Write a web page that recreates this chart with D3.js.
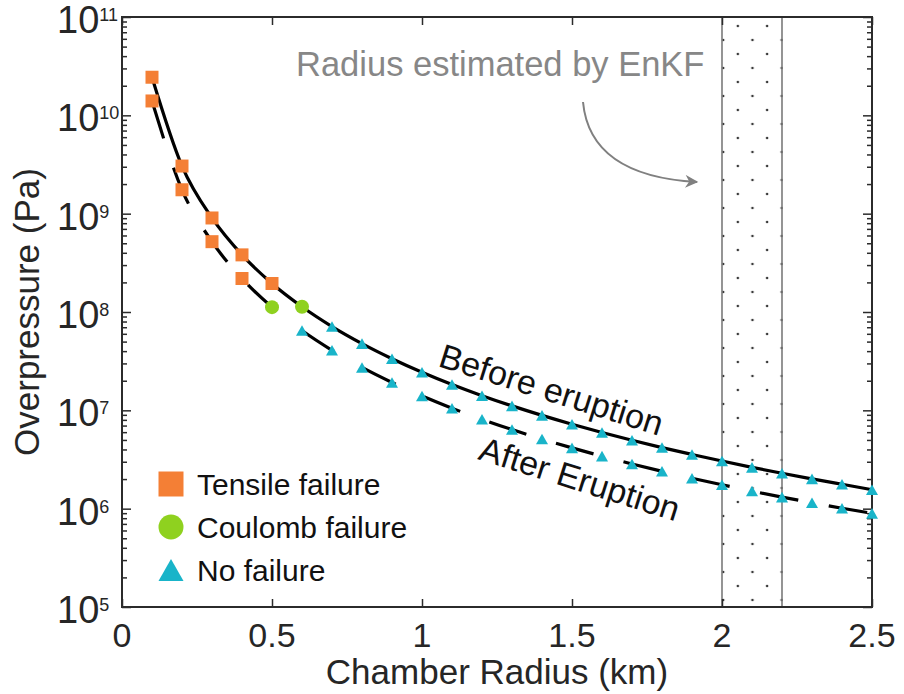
<!DOCTYPE html>
<html>
<head>
<meta charset="utf-8">
<script src="https://cdn.jsdelivr.net/npm/d3@7"></script>
<style>
  html, body { margin: 0; padding: 0; background: #fff; }
  svg { display: block; font-family: "Liberation Sans", Arial, sans-serif; }
</style>
</head>
<body>
<svg id="chart" width="904" height="694"></svg>
<script>
// Chamber radius (km) of each modelled case
const radiusKm = [0.1, 0.2, 0.3, 0.4, 0.5, 0.6, 0.7, 0.8, 0.9, 1.0,
                  1.1, 1.2, 1.3, 1.4, 1.5, 1.6, 1.7, 1.8, 1.9, 2.0,
                  2.1, 2.2, 2.3, 2.4, 2.5];

// Overpressure (Pa) before the eruption
const beforePa = [2.44e10, 3.05e9, 9.04e8, 3.81e8, 1.95e8, 1.13e8, 7.11e7, 4.77e7, 3.35e7, 2.44e7,
                  1.83e7, 1.41e7, 1.11e7, 8.89e6, 7.23e6, 5.96e6, 4.97e6, 4.18e6, 3.56e6, 3.05e6,
                  2.63e6, 2.29e6, 2.01e6, 1.77e6, 1.56e6];

// Overpressure (Pa) after the eruption
const afterPa = [1.40e10, 1.75e9, 5.19e8, 2.19e8, 1.12e8, 6.48e7, 4.08e7, 2.73e7, 1.92e7, 1.40e7,
                 1.05e7, 8.10e6, 6.37e6, 5.10e6, 4.15e6, 3.42e6, 2.85e6, 2.40e6, 2.04e6, 1.75e6,
                 1.51e6, 1.31e6, 1.15e6, 1.01e6, 8.96e5];

// Failure mode predicted at each radius
const beforeMode = ["tensile", "tensile", "tensile", "tensile", "tensile", "coulomb",
                    "none", "none", "none", "none", "none", "none", "none", "none", "none",
                    "none", "none", "none", "none", "none", "none", "none", "none", "none", "none"];
const afterMode = ["tensile", "tensile", "tensile", "tensile", "coulomb",
                   "none", "none", "none", "none", "none", "none", "none", "none", "none", "none",
                   "none", "none", "none", "none", "none", "none", "none", "none", "none", "none"];

// Axis ticks
const xTickValues = [0, 0.5, 1, 1.5, 2, 2.5];
const xTickLabels = ["0", "0.5", "1", "1.5", "2", "2.5"];
const yTickExponents = [5, 6, 7, 8, 9, 10, 11];

// Radius range estimated by the EnKF (km)
const enkfRange = [2.0, 2.2];

// Legend entries
const legendModes = ["tensile", "coulomb", "none"];
const legendLabels = ["Tensile failure", "Coulomb failure", "No failure"];

const modeColor = { tensile: "#f47f35", coulomb: "#8fd11f", none: "#19b4c9" };

const svg = d3.select("#chart");
const L = 122, R = 872, T = 17, B = 607;

const x = d3.scaleLinear().domain([0, 2.5]).range([L, R]);
const y = d3.scaleLog().domain([1e5, 1e11]).range([B, T]);

// ---- EnKF radius band with stipple fill ----
const defs = svg.append("defs");
const pw = (x(enkfRange[1]) - x(enkfRange[0])) / 4.1 * 2;
const pat = defs.append("pattern")
  .attr("id", "stipple")
  .attr("patternUnits", "userSpaceOnUse")
  .attr("x", x(enkfRange[0]) + 1.2).attr("y", 12)
  .attr("width", pw).attr("height", 28);
[[0, 0], [pw, 0], [0, 28], [pw, 28], [pw / 2, 14]].forEach(([cx, cy]) => {
  pat.append("circle").attr("cx", cx).attr("cy", cy).attr("r", 1.3).attr("fill", "#3a3a3a");
});
svg.append("rect")
  .attr("x", x(enkfRange[0]) - 1).attr("y", T)
  .attr("width", x(enkfRange[1]) - x(enkfRange[0]) + 2).attr("height", B - T)
  .attr("fill", "url(#stipple)");
enkfRange.forEach(v => {
  svg.append("line")
    .attr("x1", x(v)).attr("x2", x(v)).attr("y1", T).attr("y2", B)
    .attr("stroke", "#7a7a7a").attr("stroke-width", 1.6);
});

// ---- axes frame and ticks ----
const axisColor = "#2b2b2b";
function styleAxis(g) {
  g.select(".domain").remove();
  g.selectAll(".tick line").attr("stroke", axisColor).attr("stroke-width", 1.5);
}
svg.append("g").attr("transform", `translate(0,${B})`)
  .call(d3.axisBottom(x).tickValues(xTickValues).tickSize(-8).tickFormat(""))
  .call(styleAxis);
svg.append("g").attr("transform", `translate(0,${T})`)
  .call(d3.axisTop(x).tickValues(xTickValues).tickSize(-8).tickFormat(""))
  .call(styleAxis);

const majorY = yTickExponents.map(e => Math.pow(10, e));
const minorY = [];
yTickExponents.slice(0, -1).forEach(e => {
  for (let k = 2; k <= 9; k++) minorY.push(k * Math.pow(10, e));
});
[[d3.axisLeft, L], [d3.axisRight, R]].forEach(([ax, pos]) => {
  svg.append("g").attr("transform", `translate(${pos},0)`)
    .call(ax(y).tickValues(majorY).tickSize(-9).tickFormat(""))
    .call(styleAxis);
  svg.append("g").attr("transform", `translate(${pos},0)`)
    .call(ax(y).tickValues(minorY).tickSize(-5).tickFormat(""))
    .call(styleAxis);
});

svg.append("rect")
  .attr("x", L).attr("y", T).attr("width", R - L).attr("height", B - T)
  .attr("fill", "none").attr("stroke", axisColor).attr("stroke-width", 2);

// x tick labels
svg.append("g").selectAll("text").data(xTickValues).join("text")
  .attr("x", d => x(d)).attr("y", B + 40)
  .attr("text-anchor", "middle")
  .attr("font-size", 34).attr("fill", "#262626")
  .text((d, i) => xTickLabels[i]);

// y tick labels as powers of ten
const yLab = svg.append("g").selectAll("text").data(yTickExponents).join("text")
  .attr("x", 57).attr("y", d => y(Math.pow(10, d)) + 16)
  .attr("fill", "#262626");
yLab.append("tspan").attr("font-size", 38).text("10");
yLab.append("tspan").attr("font-size", 18).attr("dy", -12).text(d => d);

// axis titles
svg.append("text")
  .attr("x", (L + R) / 2).attr("y", 684)
  .attr("text-anchor", "middle").attr("font-size", 35).attr("fill", "#262626")
  .text("Chamber Radius (km)");
svg.append("text")
  .attr("transform", `translate(39,${(T + B) / 2}) rotate(-90)`)
  .attr("text-anchor", "middle").attr("font-size", 35).attr("fill", "#262626")
  .text("Overpressure (Pa)");

// ---- curves ----
const beforeData = radiusKm.map((r, i) => ({ r, p: beforePa[i], mode: beforeMode[i] }));
const afterData = radiusKm.map((r, i) => ({ r, p: afterPa[i], mode: afterMode[i] }));
const line = d3.line().x(d => x(d.r)).y(d => y(d.p)).curve(d3.curveMonotoneX);

svg.append("path").datum(beforeData)
  .attr("d", line).attr("fill", "none")
  .attr("stroke", "#000").attr("stroke-width", 3.2);
svg.append("path").datum(afterData)
  .attr("d", line).attr("fill", "none")
  .attr("stroke", "#000").attr("stroke-width", 3.2)
  .attr("stroke-dasharray", "39,31");

// ---- markers ----
function markerPath(mode, s) {
  if (mode === "tensile") return `M${-s / 2},${-s / 2}h${s}v${s}h${-s}Z`;
  if (mode === "coulomb") return `M${-s / 2},0a${s / 2},${s / 2} 0 1,0 ${s},0a${s / 2},${s / 2} 0 1,0 ${-s},0Z`;
  const h = s * 0.88;
  return `M0,${-h / 2}L${s / 2},${h / 2}L${-s / 2},${h / 2}Z`;
}
const markerSize = { tensile: 13, coulomb: 14, none: 12 };
[beforeData, afterData].forEach(data => {
  svg.append("g").selectAll("path").data(data).join("path")
    .attr("transform", d => `translate(${x(d.r)},${y(d.p)})`)
    .attr("d", d => markerPath(d.mode, markerSize[d.mode]))
    .attr("fill", d => modeColor[d.mode]);
});

// ---- curve labels ----
svg.append("text")
  .attr("transform", "translate(437,366) rotate(17.5)")
  .attr("font-size", 34).attr("fill", "#111")
  .text("Before eruption");
svg.append("text")
  .attr("transform", "translate(477,459) rotate(17.5)")
  .attr("font-size", 34).attr("fill", "#111")
  .text("After Eruption");

// ---- EnKF annotation ----
svg.append("text")
  .attr("x", 296).attr("y", 76)
  .attr("font-size", 34.5).attr("fill", "#878787")
  .text("Radius estimated by EnKF");
defs.append("marker")
  .attr("id", "arrowHead").attr("viewBox", "0 0 10 10")
  .attr("refX", 9).attr("refY", 5)
  .attr("markerWidth", 18).attr("markerHeight", 13)
  .attr("markerUnits", "userSpaceOnUse")
  .attr("orient", "auto")
  .append("path").attr("d", "M0,0L10,5L0,10L3,5Z").attr("fill", "#808080");
svg.append("path")
  .attr("d", "M583,102 Q590,176 697,182")
  .attr("fill", "none").attr("stroke", "#808080").attr("stroke-width", 2)
  .attr("marker-end", "url(#arrowHead)");

// ---- legend ----
const legend = svg.append("g");
legendModes.forEach((m, i) => {
  const cy = 484 + i * 43;
  legend.append("path")
    .attr("transform", `translate(171,${cy})`)
    .attr("d", markerPath(m, 25))
    .attr("fill", modeColor[m]);
  legend.append("text")
    .attr("x", 197).attr("y", cy + 11)
    .attr("font-size", 30).attr("fill", "#111")
    .text(legendLabels[i]);
});
</script>
</body>
</html>
